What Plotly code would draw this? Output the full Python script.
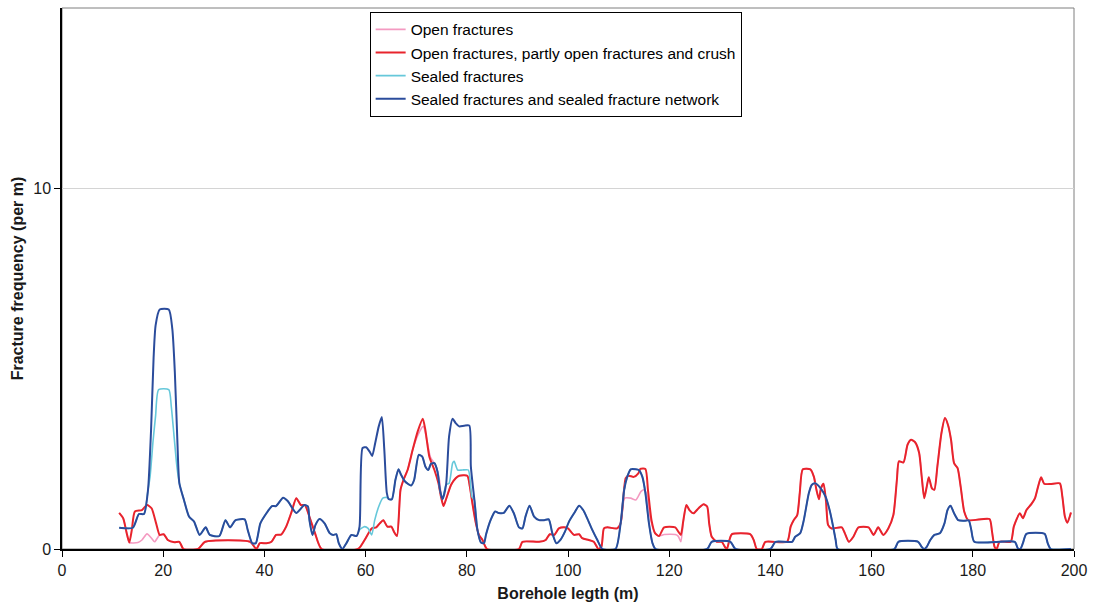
import plotly.graph_objects as go

# ---- data ----
open_x = [11.3, 12.1, 12.8, 13.3, 15.0, 15.8, 16.8, 17.7, 18.3, 19.3, 20.1, 20.9, 22.2, 23.2, 24.0, 26.9, 28.3, 37.2,
          38.4, 39.1, 40.4, 41.4, 42.3, 43.3, 44.3, 45.3, 46.3, 47.2, 48.0, 49.0, 50.0, 51.3, 58.5, 59.8, 61.2, 62.1,
          62.8, 63.5, 64.3, 65.1, 65.6, 66.2, 66.9, 67.5, 68.3, 69.3, 70.3, 71.4, 72.0, 72.8, 73.9, 74.6, 74.9, 75.4,
          75.9, 76.9, 77.8, 78.5, 80.1, 80.6, 81.1, 81.8, 82.4, 83.1, 84.0, 90.3, 91.0, 94.3, 95.6, 96.4, 97.3, 98.2,
          99.2, 100.0, 101.2, 102.2, 102.8, 104.1, 105.1, 106.0, 106.6, 107.1, 107.8, 109.7, 110.4, 111.2, 112.4,
          113.4, 114.4, 115.0, 115.6, 116.2, 117.2, 118.0, 119.0, 121.2, 121.8, 122.3, 122.8, 123.4, 124.0, 124.8,
          125.8, 126.8, 127.5, 127.9, 128.4, 129.4, 130.4, 131.0, 131.4, 131.9, 132.4, 136.0, 136.7, 137.3, 138.3,
          139.0, 143.3, 144.0, 144.6, 145.3, 145.8, 146.4, 147.9, 148.6, 149.1, 149.6, 150.0, 150.5, 151.0, 151.4,
          152.1, 154.1, 154.7, 155.5, 156.4, 157.4, 159.4, 160.4, 161.3, 162.3, 163.3, 164.3, 165.0, 165.4, 166.3,
          167.1, 167.8, 168.6, 169.4, 169.9, 170.4, 170.9, 171.3, 171.9, 172.4, 173.0, 173.8, 174.5, 175.1, 175.7,
          176.3, 177.0, 177.6, 178.3, 179.1, 183.3, 183.8, 184.3, 184.7, 185.3, 187.5, 188.1, 189.3, 189.9, 190.6,
          191.6, 192.3, 192.9, 193.5, 194.1, 195.3, 197.2, 197.7, 198.2, 198.7, 199.4]
open_y = [1.0, 0.85, 0.43, 0.18, 0.18, 0.25, 0.42, 0.3, 0.2, 0.39, 0.41, 0.25, 0.19, 0.2, 0.0, 0.0, 0.2, 0.2,
          0.0, 0.16, 0.16, 0.2, 0.39, 0.4, 0.62, 1.0, 1.41, 1.22, 1.22, 0.85, 0.44, 0.0, 0.0, 0.25, 0.57, 0.6,
          0.71, 0.8, 0.62, 0.62, 0.48, 0.36, 1.64, 1.92, 2.19, 2.75, 3.15, 3.4, 3.1, 2.55, 2.3, 1.9, 1.5, 1.19,
          1.38, 1.78, 1.96, 2.03, 2.03, 1.73, 1.27, 0.71, 0.39, 0.25, 0.0, 0.0, 0.2, 0.2, 0.25, 0.41, 0.39, 0.57,
          0.6, 0.57, 0.39, 0.41, 0.3, 0.25, 0.2, 0.0, 0.06, 0.57, 0.6, 0.57, 0.71, 1.41, 1.41,
          1.36, 1.59, 1.64, 1.5, 0.9, 0.44, 0.36, 0.4, 0.4, 0.35, 0.2, 0.75, 1.22, 1.08, 0.99,
          1.13, 1.24, 1.18, 0.71, 0.34, 0.2, 0.2, 0.06, 0.0, 0.25, 0.41, 0.41, 0.25, 0.0, 0.0,
          0.2, 0.2, 0.62, 0.8, 0.94, 1.55, 2.21, 2.21, 2.0, 1.64, 1.38, 1.69, 1.81, 1.31, 0.67,
          0.57, 0.6, 0.44, 0.2, 0.34, 0.6, 0.6, 0.39, 0.6, 0.39, 0.57, 0.94, 1.92, 2.43, 2.4,
          2.89, 3.03, 2.96, 2.66, 2.01, 1.41, 1.73, 1.99, 1.69, 1.64, 2.29, 3.21, 3.63, 3.44, 3.03,
          2.38, 2.24, 1.73, 1.04, 0.8, 0.83, 0.48, 0.06, 0.0, 0.2, 0.2, 0.62, 0.99, 0.85, 1.08,
          1.25, 1.41, 1.73, 1.99, 1.81, 1.8, 1.82, 1.45, 0.9, 0.73, 1.01]

crush_x = [11.3, 12.1, 12.8, 13.3, 13.8, 14.4, 15.8, 16.8, 17.7, 18.6, 19.3, 20.1, 20.9, 22.2, 23.2, 24.0, 26.9, 28.3,
           37.2, 38.4, 39.1, 40.4, 41.4, 42.3, 43.3, 44.3, 45.3, 46.3, 47.2, 48.0, 49.0, 50.0, 51.3, 58.5, 59.8, 61.2,
           62.1, 62.8, 63.5, 64.3, 65.1, 65.6, 66.2, 66.9, 67.5, 68.3, 69.3, 70.3, 71.3, 71.8, 72.6, 73.6, 74.4, 74.9,
           75.4, 75.9, 76.9, 77.8, 78.5, 80.1, 80.6, 81.1, 81.8, 82.4, 83.1, 84.0, 90.3, 91.0, 94.3, 95.6, 96.4, 97.3,
           98.2, 99.2, 100.0, 101.2, 102.2, 102.8, 104.1, 105.1, 106.0, 106.6, 107.1, 107.8, 109.7, 110.4, 111.4,
           112.0, 113.0, 113.9, 114.3, 115.3, 115.8, 116.5, 117.2, 118.0, 119.0, 121.2, 121.8, 122.3, 122.8, 123.4,
           124.0, 124.8, 125.8, 126.8, 127.5, 127.9, 128.4, 129.4, 130.4, 131.0, 131.4, 131.9, 132.4, 136.0, 136.7,
           137.3, 138.3, 139.0, 143.3, 144.0, 144.6, 145.3, 145.8, 146.4, 147.9, 148.6, 149.1, 149.6, 150.0, 150.5,
           151.0, 151.4, 152.1, 154.1, 154.7, 155.5, 156.4, 157.4, 159.4, 160.4, 161.3, 162.3, 163.3, 164.3, 165.0,
           165.4, 166.3, 167.1, 167.8, 168.6, 169.4, 169.9, 170.4, 170.9, 171.3, 171.9, 172.4, 173.0, 173.8, 174.5,
           175.1, 175.7, 176.3, 177.0, 177.6, 178.3, 179.1, 183.3, 183.8, 184.3, 184.7, 185.3, 187.5, 188.1, 189.3,
           189.9, 190.6, 191.6, 192.3, 192.9, 193.5, 194.1, 195.3, 197.2, 197.7, 198.2, 198.7, 199.4]
crush_y = [1.0, 0.85, 0.43, 0.18, 0.53, 1.04, 1.08, 1.22, 1.13, 0.71, 0.39, 0.41, 0.25, 0.19, 0.2, 0.0, 0.0, 0.2,
           0.2, 0.0, 0.16, 0.16, 0.2, 0.39, 0.4, 0.62, 1.0, 1.41, 1.22, 1.22, 0.85, 0.44, 0.0, 0.0, 0.25, 0.57,
           0.6, 0.71, 0.8, 0.62, 0.62, 0.48, 0.36, 1.64, 1.92, 2.19, 2.75, 3.26, 3.61, 3.31, 2.56, 2.19, 1.82, 1.45,
           1.19, 1.38, 1.78, 1.96, 2.03, 2.03, 1.73, 1.27, 0.71, 0.39, 0.25, 0.0, 0.0, 0.2, 0.2, 0.25, 0.41, 0.39,
           0.57, 0.6, 0.57, 0.39, 0.41, 0.3, 0.25, 0.2, 0.0, 0.06, 0.57, 0.6, 0.57, 0.71, 1.96,
           2.03, 2.0, 2.1, 2.22, 2.22, 1.64, 0.8, 0.44, 0.36, 0.6, 0.6, 0.48, 0.39, 0.8, 1.22,
           1.08, 0.99, 1.13, 1.24, 1.18, 0.71, 0.34, 0.2, 0.2, 0.06, 0.0, 0.25, 0.41, 0.41, 0.25,
           0.0, 0.0, 0.2, 0.2, 0.62, 0.8, 0.94, 1.55, 2.21, 2.21, 2.0, 1.64, 1.38, 1.69, 1.81,
           1.31, 0.67, 0.57, 0.6, 0.44, 0.2, 0.34, 0.6, 0.6, 0.39, 0.6, 0.39, 0.57, 0.94, 1.92,
           2.43, 2.4, 2.89, 3.03, 2.96, 2.66, 2.01, 1.41, 1.73, 1.99, 1.69, 1.64, 2.29, 3.21, 3.63,
           3.44, 3.03, 2.38, 2.24, 1.73, 1.04, 0.8, 0.83, 0.48, 0.06, 0.0, 0.2, 0.2, 0.62, 0.99,
           0.85, 1.08, 1.25, 1.41, 1.73, 1.99, 1.81, 1.8, 1.82, 1.45, 0.9, 0.73, 1.01]

sealed_x = [11.3, 14.0, 15.2, 16.2, 17.0, 17.4, 18.0, 18.5, 19.1, 21.1, 21.6, 22.1, 22.7, 23.2, 24.1, 25.1, 26.1, 27.2,
            28.4, 29.2, 31.1, 32.3, 33.2, 34.3, 36.1, 36.7, 37.6, 38.3, 39.2, 40.4, 41.5, 42.3, 43.7, 44.6, 46.3, 47.9,
            48.6, 48.9, 49.5, 50.1, 50.9, 51.9, 52.9, 53.6, 54.2, 54.7, 55.4, 56.2, 57.2, 58.2, 58.8, 59.8, 60.5, 61.2,
            61.8, 62.6, 63.4, 64.2, 64.6, 65.2, 65.9, 66.5, 67.0, 67.8, 69.0, 69.6, 70.5, 71.2, 71.8, 72.4, 72.9, 73.6,
            74.2, 74.7, 75.2, 75.9, 76.5, 77.2, 77.5, 78.2, 79.1, 80.3, 81.0, 81.5, 82.1, 82.8, 83.4, 83.8, 84.7, 85.6,
            86.3, 87.3, 88.4, 89.3, 90.3, 91.0, 91.6, 92.4, 93.3, 94.3, 95.3, 96.2, 96.9, 97.7, 98.5, 99.4, 100.2,
            101.2, 102.2, 103.0, 103.8, 104.8, 105.8, 106.8, 109.4, 110.4, 111.1, 111.7, 112.4, 113.4, 114.0, 114.7,
            115.3, 116.0, 116.7, 117.3, 127.5, 128.4, 132.1, 133.1, 140.0, 141.0, 144.3, 144.9, 145.9, 146.6, 147.6,
            148.2, 148.9, 149.9, 150.9, 151.7, 152.4, 152.9, 153.3, 164.5, 165.3, 169.2, 169.9, 170.4, 170.9, 171.6,
            172.4, 173.5, 174.4, 175.0, 175.6, 176.3, 177.1, 178.1, 179.2, 179.7, 180.3, 188.3, 188.9, 189.4, 189.9,
            190.6, 194.2, 194.8, 195.4, 199.4]
sealed_y = [0.59, 0.59, 0.97, 0.97, 1.64, 2.0, 3.0, 3.7, 4.42, 4.42, 3.95, 3.2, 2.3, 1.82, 1.36, 0.9, 0.76, 0.39,
            0.6, 0.39, 0.36, 0.8, 0.6, 0.8, 0.82, 0.53, 0.16, 0.16, 0.71, 0.99, 1.19, 1.19, 1.42, 1.33, 1.0, 1.22,
            1.18, 0.8, 0.39, 0.67, 0.83, 0.71, 0.44, 0.39, 0.41, 0.16, 0.0, 0.16, 0.39, 0.36, 0.53, 0.62, 0.57, 0.39,
            0.8, 1.18, 1.41, 1.43, 1.38, 1.38, 1.92, 2.21, 2.06, 1.87, 1.76, 1.92, 2.61, 2.56, 2.29, 2.19, 2.36, 2.38,
            2.15, 1.64, 1.38, 1.78, 1.82, 2.38, 2.43, 2.19, 2.19, 2.19, 1.45, 1.36, 0.53, 0.18, 0.16, 0.4, 0.8, 1.04,
            1.0, 1.0, 1.2, 0.99, 0.6, 0.57, 0.9, 1.2, 0.9, 0.8, 0.8, 0.82, 0.44, 0.16, 0.25, 0.48, 0.76,
            0.99, 1.2, 1.08, 0.85, 0.53, 0.25, 0.0, 0.0, 0.71, 1.64, 2.0, 2.21, 2.21, 2.19, 2.0,
            1.55, 0.71, 0.16, 0.0, 0.0, 0.2, 0.2, 0.0, 0.0, 0.2, 0.2, 0.34, 0.44, 0.8, 1.55,
            1.78, 1.82, 1.69, 1.45, 1.08, 0.62, 0.25, 0.0, 0.0, 0.2, 0.2, 0.06, 0.0, 0.06, 0.25,
            0.39, 0.44, 0.71, 1.08, 1.2, 0.99, 0.8, 0.78, 0.79, 0.53, 0.2, 0.2, 0.02, 0.0, 0.16,
            0.42, 0.42, 0.16, 0.0, 0.0]

network_x = [11.3, 14.0, 15.2, 16.2, 17.0, 17.6, 18.1, 18.5, 19.3, 21.1, 21.8, 22.3, 22.8, 23.2, 24.1, 25.1, 26.1, 27.2,
             28.4, 29.2, 31.1, 32.3, 33.2, 34.3, 36.1, 36.7, 37.6, 38.3, 39.2, 40.4, 41.5, 42.3, 43.7, 44.6, 46.3, 47.9,
             48.6, 48.9, 49.5, 50.1, 50.9, 51.9, 52.9, 53.6, 54.2, 54.7, 55.4, 56.2, 57.2, 58.2, 58.8, 59.4, 60.1, 60.8,
             61.3, 61.9, 62.6, 63.2, 63.7, 64.2, 64.6, 65.2, 65.9, 66.5, 67.0, 67.8, 69.0, 69.6, 70.5, 71.2, 71.8, 72.4,
             72.9, 73.6, 74.2, 74.7, 75.2, 75.9, 76.5, 77.2, 77.8, 78.5, 79.5, 80.5, 80.8, 81.5, 82.1, 82.8, 83.4, 83.8,
             84.7, 85.6, 86.3, 87.3, 88.4, 89.3, 90.3, 91.0, 91.6, 92.4, 93.3, 94.3, 95.3, 96.2, 96.9, 97.7, 98.5, 99.4,
             100.2, 101.2, 102.2, 103.0, 103.8, 104.8, 105.8, 106.8, 109.4, 110.4, 111.1, 111.7, 112.4, 113.4, 114.0,
             114.7, 115.3, 116.0, 116.7, 117.3, 127.5, 128.4, 132.1, 133.1, 140.0, 141.0, 144.3, 144.9, 145.9, 146.6,
             147.6, 148.2, 148.9, 149.9, 150.9, 151.7, 152.4, 152.9, 153.3, 164.5, 165.3, 169.2, 169.9, 170.4, 170.9,
             171.6, 172.4, 173.5, 174.4, 175.0, 175.6, 176.3, 177.1, 178.1, 179.2, 179.7, 180.3, 188.3, 188.9, 189.4,
             189.9, 190.6, 194.2, 194.8, 195.4, 199.4]
network_y = [0.59, 0.59, 0.97, 0.97, 1.64, 3.3, 5.3, 6.2, 6.64, 6.64, 6.1, 4.9, 3.0, 1.82, 1.36, 0.9, 0.76, 0.39,
             0.6, 0.39, 0.36, 0.8, 0.6, 0.8, 0.82, 0.53, 0.16, 0.16, 0.71, 0.99, 1.19, 1.19, 1.42, 1.33, 1.0, 1.22,
             1.18, 0.8, 0.39, 0.67, 0.83, 0.71, 0.44, 0.39, 0.41, 0.16, 0.0, 0.16, 0.39, 0.36, 0.62, 2.8, 2.82, 2.7,
             2.58, 2.94, 3.4, 3.66, 2.75, 1.55, 1.38, 1.38, 1.92, 2.21, 2.06, 1.87, 1.76, 1.92, 2.61, 2.56, 2.29, 2.19,
             2.36, 2.38, 2.15, 1.64, 1.38, 1.78, 3.12, 3.61, 3.49, 3.4, 3.42, 3.42, 2.29, 1.36, 0.53, 0.18, 0.16, 0.4,
             0.8, 1.04, 1.0, 1.0, 1.2, 0.99, 0.6, 0.57, 0.9, 1.2, 0.9, 0.8, 0.8, 0.82, 0.44, 0.16, 0.25, 0.48,
             0.76, 0.99, 1.2, 1.08, 0.85, 0.53, 0.25, 0.0, 0.0, 0.71, 1.64, 2.0, 2.21, 2.21, 2.19,
             2.0, 1.55, 0.71, 0.16, 0.0, 0.0, 0.2, 0.2, 0.0, 0.0, 0.2, 0.2, 0.34, 0.44, 0.8,
             1.55, 1.78, 1.82, 1.69, 1.45, 1.08, 0.62, 0.25, 0.0, 0.0, 0.2, 0.2, 0.06, 0.0, 0.06,
             0.25, 0.39, 0.44, 0.71, 1.08, 1.2, 0.99, 0.8, 0.78, 0.79, 0.53, 0.2, 0.2, 0.02, 0.0,
             0.16, 0.42, 0.42, 0.16, 0.0, 0.0]

series_names = ["Open fractures",
                "Open fractures, partly open fractures and crush",
                "Sealed fractures",
                "Sealed fractures and sealed fracture network"]
series_colors = ["#F49AC1", "#E8242C", "#66C8DA", "#2B4C9C"]
series_widths = [1.6, 2.0, 1.6, 2.0]
x_ticks = [0, 20, 40, 60, 80, 100, 120, 140, 160, 180, 200]
y_ticks = [0, 10]

xs = [open_x, crush_x, sealed_x, network_x]
ys = [open_y, crush_y, sealed_y, network_y]

fig = go.Figure()
for i in range(4):
    fig.add_trace(go.Scatter(
        x=xs[i], y=ys[i], mode="lines", name=series_names[i],
        legendgroup=f"g{i}",
        line=dict(color=series_colors[i], width=series_widths[i], shape="spline", smoothing=0.6),
    ))

font_family = "Liberation Sans, Arial, sans-serif"
fig.update_layout(
    width=1095, height=613,
    margin=dict(l=62, r=21, t=8, b=64),
    plot_bgcolor="white", paper_bgcolor="white",
    font=dict(family=font_family, size=16, color="#1a1a1a"),
    showlegend=True,
    legend=dict(
        x=0.304, y=0.993, xanchor="left", yanchor="top",
        bgcolor="white", bordercolor="#000000", borderwidth=1,
        font=dict(family=font_family, size=15.5, color="#000000"),
        traceorder="grouped", tracegroupgap=0,
        itemwidth=30,
    ),
    xaxis=dict(
        range=[0, 200], tickvals=x_ticks, ticktext=[str(v) for v in x_ticks],
        showgrid=False, zeroline=False,
        showline=True, linecolor="#000000", linewidth=1.5,
        ticks="outside", ticklen=6, tickcolor="#000000",
        tickfont=dict(size=16),
        title=dict(text="<b>Borehole legth (m)</b>", font=dict(size=16), standoff=10),
    ),
    yaxis=dict(
        range=[0, 15], tickvals=y_ticks, ticktext=[str(v) for v in y_ticks],
        showgrid=True, gridcolor="#D4D4D4", gridwidth=1, zeroline=False,
        showline=True, linecolor="#000000", linewidth=1.5,
        ticks="outside", ticklen=6, tickcolor="#000000",
        tickfont=dict(size=16),
        title=dict(text="<b>Fracture frequency (per m)</b>", font=dict(size=16), standoff=6),
    ),
    shapes=[dict(type="rect", xref="paper", yref="paper", x0=0, y0=0, x1=1, y1=1,
                 line=dict(color="#7F7F7F", width=1), layer="below")],
)

fig.write_html("out.html")
